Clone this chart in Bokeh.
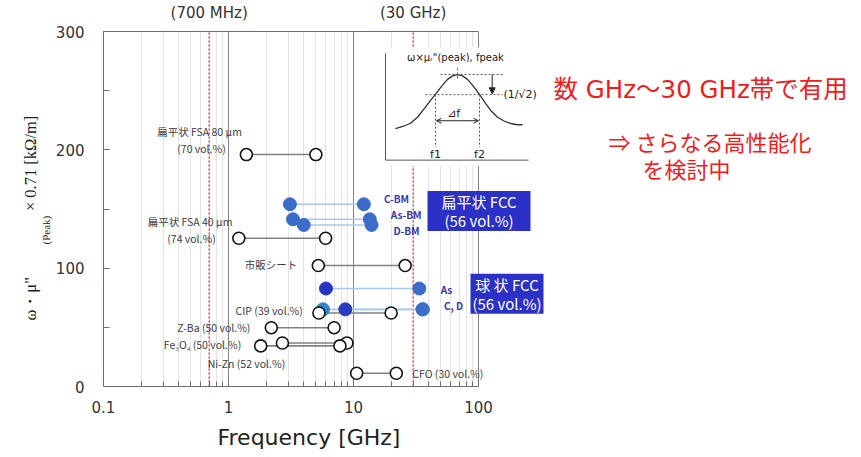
import numpy as np
from bokeh.plotting import figure
from bokeh.models import (Range1d, LinearScale, FixedTicker, SingleIntervalTicker, LogAxis,
                          CustomJSTickFormatter, Label, Title, Arrow, NormalHead, OpenHead)
from bokeh.embed import file_html
from bokeh.resources import INLINE

# ---- data -------------------------------------------------------------
# open-circle materials: low / high frequency edge [GHz] and peak value
open_names = ["fsa80", "fsa40", "sheet", "cip", "zba", "fe3o4", "nizn", "cfo"]
open_f1 = [1.39, 1.21, 5.23, 5.29, 2.2, 2.7, 1.81, 10.6]
open_f2 = [5.0, 5.98, 25.9, 20.0, 7.0, 8.86, 7.79, 22.0]
open_val = [196, 125.3, 102.2, 62.1, 49.7, 36.8, 34.3, 11.2]

# flat FCC (56 vol.%)
flat_names = ["C-BM", "As-BM", "D-BM"]
flat_f1 = [3.1, 3.28, 4.0]
flat_f2 = [12.1, 13.5, 13.95]
flat_val = [154, 141.3, 136.5]

# spherical FCC (56 vol.%)
sph_names = ["As", "C", "D"]
sph_f1 = [6.02, 5.7, 8.6]
sph_f2 = [33.6, 35.9, 35.6]
sph_val = [82.8, 65.2, 65.2]

# reference frequencies [GHz]
ref_freqs = [0.7, 30]
ref_labels = ["(700 MHz)", "(30 GHz)"]

x_ticks = [0.1, 1, 10, 100]
x_minor = [m * d for d in (0.1, 1, 10) for m in range(2, 10)]

# ---- layout -----------------------------------------------------------
W, H = 861, 457
L, T, B = 103, 30, 71
plot_w = 375                      # width of the 0.1 - 100 GHz decade span
frame_w = W - L
x_end = 10 ** (-1 + 3 * frame_w / plot_w)

p = figure(width=W, height=H, x_axis_type="log",
           x_range=Range1d(0.1, x_end), y_range=Range1d(0, 300),
           output_backend="svg", toolbar_location=None,
           min_border_left=L, min_border_right=0, min_border_top=T, min_border_bottom=B)
p.outline_line_color = None
p.background_fill_color = "white"
p.border_fill_color = "white"

# pixel-space overlay for the schematic and annotations
p.extra_x_ranges = {"px": Range1d(L, W)}
p.extra_y_ranges = {"py": Range1d(H - B, T)}
p.extra_x_scales = {"px": LinearScale()}
p.extra_y_scales = {"py": LinearScale()}
PX = dict(x_range_name="px", y_range_name="py")

AX = "#6e6e6e"
xt = FixedTicker(ticks=x_ticks, minor_ticks=x_minor)
xa = p.xaxis[0]
xa.ticker = xt
xa.bounds = (0.1, 100)
xa.formatter = CustomJSTickFormatter(code="return String(tick)")
xa.axis_line_color = AX
xa.major_tick_line_color = AX
xa.minor_tick_line_color = AX
xa.major_tick_in, xa.major_tick_out = 6, 0
xa.minor_tick_in, xa.minor_tick_out = 5, 0
xa.major_label_standoff = 14
xa.major_label_text_font = "DejaVu Sans"
xa.major_label_text_font_size = "15px"
xa.major_label_text_color = "#333333"

ya = p.yaxis[0]
ya.ticker = SingleIntervalTicker(interval=100, num_minor_ticks=2)
ya.axis_line_color = AX
ya.major_tick_line_color = AX
ya.minor_tick_line_color = AX
ya.major_tick_in, ya.major_tick_out = 6, 0
ya.minor_tick_in, ya.minor_tick_out = 6, 0
ya.major_label_standoff = 19
ya.major_label_text_font = "DejaVu Sans"
ya.major_label_text_font_size = "15px"
ya.major_label_text_color = "#333333"

# top border carrying the reference frequency labels
top = LogAxis(ticker=FixedTicker(ticks=ref_freqs), bounds=(0.1, 100), axis_line_color=AX,
              major_tick_line_color=None, minor_tick_line_color=None,
              major_label_overrides=dict(zip(ref_freqs, ref_labels)),
              major_label_standoff=4, major_label_text_font="DejaVu Sans",
              major_label_text_font_size="15px", major_label_text_color="#333333")
p.add_layout(top, "above")

# axis titles, placed by their offset from the frame's start edge
def side_title(text, size, font, standoff, offset):
    return Title(text=text, align="left", offset=offset, standoff=standoff,
                 text_font=font, text_font_size=size, text_font_style="normal",
                 text_color="#222222")

p.add_layout(side_title("Frequency [GHz]", "22px", "DejaVu Sans", 14, 114), "below")
p.add_layout(side_title("(Peak)", "11px", "Liberation Serif", 1, 142), "left")
p.add_layout(side_title('ω・μ"\u2003\u2003\u2003\u2003× 0.71 [kΩ/m]', "16.5px", "Liberation Serif",
                        -5, 66), "left")

p.xgrid.ticker = xt
p.xgrid.grid_line_color = "#858585"
p.xgrid.minor_grid_line_color = "#e4e4e4"
p.ygrid.visible = False

# reference frequency markers
p.segment(x0=ref_freqs, y0=0, x1=ref_freqs, y1=300, line_color="#e3262b",
          line_dash="2 2", line_width=1.2)

# connecting lines
p.segment(x0=flat_f1, y0=flat_val, x1=flat_f2, y1=flat_val, line_color="#a9c9ee", line_width=1.6)
p.segment(x0=sph_f1, y0=sph_val, x1=sph_f2, y1=sph_val, line_color="#a9c9ee", line_width=1.6)
p.segment(x0=open_f1, y0=open_val, x1=open_f2, y1=open_val, line_color="#808080", line_width=1.6)

# filled FCC markers
BLUE = "#3b6dc8"
p.scatter(x=flat_f1 + flat_f2, y=flat_val + flat_val, size=13, fill_color=BLUE, line_color=BLUE)
sph_start_colors = ["#2434c0", "#2e86d2", "#2a3bc0"]
p.scatter(x=sph_f2, y=sph_val, size=13, fill_color=BLUE, line_color=BLUE)
p.scatter(x=sph_f1, y=sph_val, size=13, fill_color=sph_start_colors, line_color=sph_start_colors)

# open markers
p.scatter(x=open_f1 + open_f2, y=open_val + open_val, size=12, fill_color="white",
          line_color="#141414", line_width=1.6)

# ---- schematic of the peak / bandwidth definition --------------------
p.quad(left=380, right=533, top=46, bottom=165, fill_color="white", line_color=None, **PX)
p.line(x=[385, 385, 528], y=[52, 159, 159], line_color="#555555", line_width=1, **PX)
curve_x = [395, 403, 410, 417, 424, 430, 435, 441, 447, 452, 457, 462, 467, 473, 479, 485, 491, 497, 504, 511, 517, 522]
curve_y = [127.5, 125, 122, 116, 107, 99, 93, 85, 78, 74.5, 73.3, 74.5, 78, 85, 93, 102, 110, 116, 120, 122.5, 123.5, 123.5]
p.line(x=curve_x, y=curve_y, line_color="#333333", line_width=1.3, **PX)
p.segment(x0=[440, 425, 457, 435, 479], y0=[73, 93.3, 67, 93.3, 93.3],
          x1=[502, 502, 457, 435, 479], y1=[73, 93.3, 79, 146, 146],
          line_color="#555555", line_dash="2 2", line_width=1, **PX)
p.add_layout(Arrow(end=NormalHead(size=6, fill_color="#222222", line_color="#222222"),
                   x_start=491.7, y_start=73, x_end=491.7, y_end=92.5,
                   line_color="#222222", line_width=1, **PX))
p.add_layout(Arrow(start=OpenHead(size=5, line_color="#222222"), end=OpenHead(size=5, line_color="#222222"),
                   x_start=436, y_start=119.5, x_end=478, y_end=119.5,
                   line_color="#222222", line_width=1, **PX))

def lab(x, y, text, size="10.5px", color="#404040", font="Noto Sans CJK JP", align="center",
        style="normal", baseline="middle"):
    p.add_layout(Label(x=x, y=y, text=text, text_font=font, text_font_size=size,
                       text_color=color, text_align=align, text_baseline=baseline,
                       text_font_style=style, **PX))

lab(455, 56, 'ω×μᵣ"(peak), fpeak', size="10px", color="#222222", font="DejaVu Sans")
lab(453, 112, "⊿f", size="11px", color="#222222", font="DejaVu Sans")
lab(435, 153, "f1", size="11px", color="#222222", font="DejaVu Sans")
lab(479, 153, "f2", size="11px", color="#222222", font="DejaVu Sans")
lab(503, 93, "(1/√2)", size="11px", color="#222222", font="DejaVu Sans", align="left")

# ---- series labels ----------------------------------------------------
lab(199, 130, "扁平状 FSA 80 µm")
lab(201, 147, "(70 vol.%)")
lab(189.5, 221, "扁平状 FSA 40 µm")
lab(191, 237.5, "(74 vol.%)")
lab(270.5, 264, "市販シート")
lab(268.7, 309.5, "CIP (39 vol.%)")
lab(213.3, 327, "Z-Ba (50 vol.%)")
lab(202, 343.5, "Fe₃O₄ (50 vol.%)")
lab(246, 362.5, "Ni-Zn (52 vol.%)")
lab(447.3, 372.5, "CFO (30 vol.%)")

LB = "#3535b0"
for (x, y), t in zip([(396, 197), (405.7, 213.5), (406, 229.5)], flat_names):
    lab(x, y, t, size="10px", color=LB, style="bold")
lab(446, 288.5, "As", size="10px", color=LB, style="bold")
lab(453, 305, "C, D", size="10px", color=LB, style="bold")

# group boxes
BOX = "#2b30c6"
p.quad(left=[427, 470], right=[530, 543], top=[190, 273], bottom=[230, 313],
       fill_color=BOX, line_color=None, **PX)
lab(478.5, 200.5, "扁平状 FCC", size="15px", color="white")
lab(478.5, 220, "(56 vol.%)", size="15px", color="white")
lab(506.5, 284, "球 状 FCC", size="15px", color="white")
lab(506.5, 303, "(56 vol.%)", size="15px", color="white")

# comments on the right
RED = "#f21b1b"
lab(553, 88, "数 GHz～30 GHz帯で有用", size="24.5px", color=RED, align="left",
    font="DejaVu Sans, Noto Sans CJK JP")
lab(608, 140, "⇒ さらなる高性能化", size="22px", color=RED, align="left")
lab(642, 167, "を検討中", size="22px", color=RED, align="left")

open("out.html", "w").write(file_html(p, INLINE))
